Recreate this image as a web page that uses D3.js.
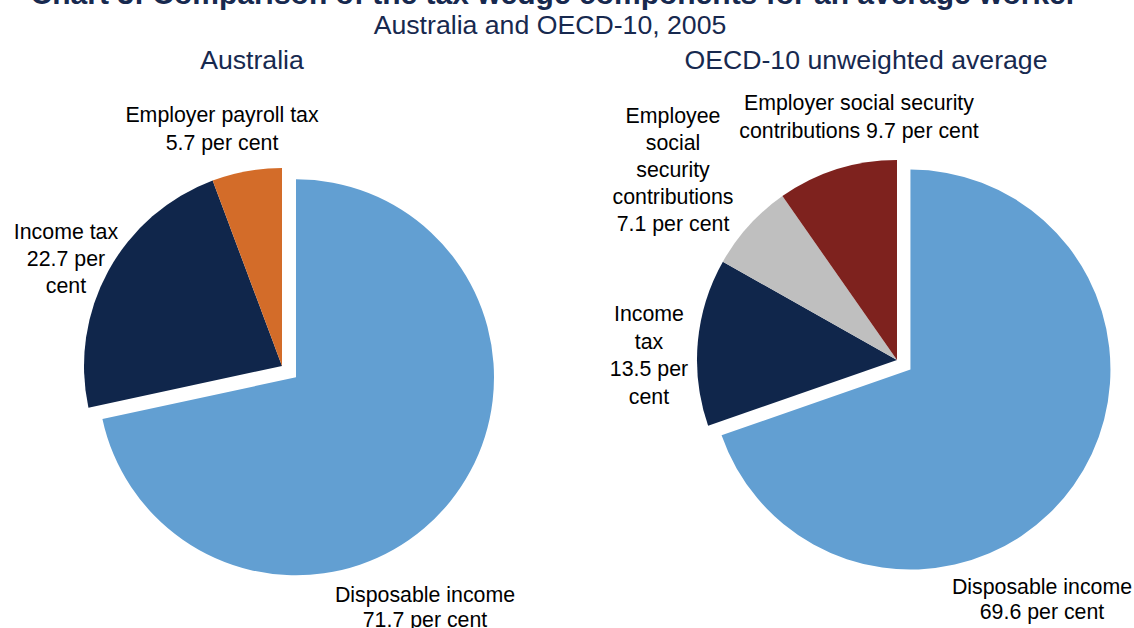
<!DOCTYPE html>
<html>
<head>
<meta charset="utf-8">
<script src="https://cdn.jsdelivr.net/npm/d3@7"></script>
<style>
  html, body { margin: 0; padding: 0; background: #fff; }
  svg { display: block; }
  text { font-family: "Liberation Sans", Arial, sans-serif; }
</style>
</head>
<body>
<svg id="chart" width="1134" height="628"></svg>
<script>
// Tax wedge components, per cent of labour cost
const ausCategories = ["Disposable income", "Income tax", "Employer payroll tax"];
const ausValues = [71.7, 22.7, 5.7];

const oecdCategories = ["Disposable income", "Income tax", "Employee social security contributions", "Employer social security contributions"];
const oecdValues = [69.6, 13.5, 7.1, 9.7];

const colours = {
  "Disposable income": "#629fd2",
  "Income tax": "#10264b",
  "Employer payroll tax": "#d36c29",
  "Employee social security contributions": "#bfbfbf",
  "Employer social security contributions": "#7e221e"
};

// Label text lines per slice (value appended from the data)
const ausLabelLines = [
  v => ["Disposable income", `${v} per cent`],
  v => ["Income tax", `${v} per`, "cent"],
  v => ["Employer payroll tax", `${v} per cent`]
];
const oecdLabelLines = [
  v => ["Disposable income", `${v} per cent`],
  v => ["Income", "tax", `${v} per`, "cent"],
  v => ["Employee", "social", "security", "contributions", `${v} per cent`],
  v => ["Employer social security", `contributions ${v} per cent`]
];

// Layout
const panels = [
  {
    title: "Australia", titleX: 252,
    categories: ausCategories, values: ausValues, lines: ausLabelLines,
    cx: 282, cy: 366, r: 198, explode: 18,
    labels: [
      { x: 425, y: 602, dy: 25 },
      { x: 66, y: 239, dy: 27 },
      { x: 222, y: 122, dy: 28 }
    ]
  },
  {
    title: "OECD-10 unweighted average", titleX: 866,
    categories: oecdCategories, values: oecdValues, lines: oecdLabelLines,
    cx: 897, cy: 360, r: 200, explode: 16.5,
    labels: [
      { x: 1042, y: 594, dy: 25 },
      { x: 649, y: 321, dy: 27.5 },
      { x: 673, y: 123, dy: 27 },
      { x: 859, y: 110, dy: 27.5 }
    ]
  }
];

const svg = d3.select("#chart");

svg.append("text")
  .attr("x", 554).attr("y", 4)
  .attr("text-anchor", "middle")
  .attr("font-size", 30).attr("font-weight", "bold")
  .attr("fill", "#17294f")
  .text("Chart 3: Comparison of the tax wedge components for an average worker");

svg.append("text")
  .attr("x", 550).attr("y", 34)
  .attr("text-anchor", "middle")
  .attr("font-size", 26.67)
  .attr("fill", "#17294f")
  .text("Australia and OECD-10, 2005");

const pie = d3.pie().sort(null).startAngle(0).endAngle(2 * Math.PI);

panels.forEach(p => {
  svg.append("text")
    .attr("x", p.titleX).attr("y", 69)
    .attr("text-anchor", "middle")
    .attr("font-size", 26.67)
    .attr("fill", "#17294f")
    .text(p.title);

  const arc = d3.arc().innerRadius(0).outerRadius(p.r);
  const slices = pie(p.values).map((s, i) => Object.assign(s, { name: p.categories[i] }));

  const g = svg.append("g").attr("transform", `translate(${p.cx},${p.cy})`);

  g.selectAll("path")
    .data(slices)
    .join("path")
    .attr("d", arc)
    .attr("fill", d => colours[d.name])
    .attr("transform", (d, i) => {
      if (i !== 0) return null;
      const mid = (d.startAngle + d.endAngle) / 2;
      return `translate(${Math.sin(mid) * p.explode},${-Math.cos(mid) * p.explode})`;
    });

  slices.forEach((s, i) => {
    const lab = p.labels[i];
    const t = svg.append("text")
      .attr("text-anchor", "middle")
      .attr("font-size", 21.33)
      .attr("fill", "#000");
    p.lines[i](s.value).forEach((line, k) => {
      t.append("tspan").attr("x", lab.x).attr("y", lab.y + k * lab.dy).text(line);
    });
  });
});
</script>
</body>
</html>
